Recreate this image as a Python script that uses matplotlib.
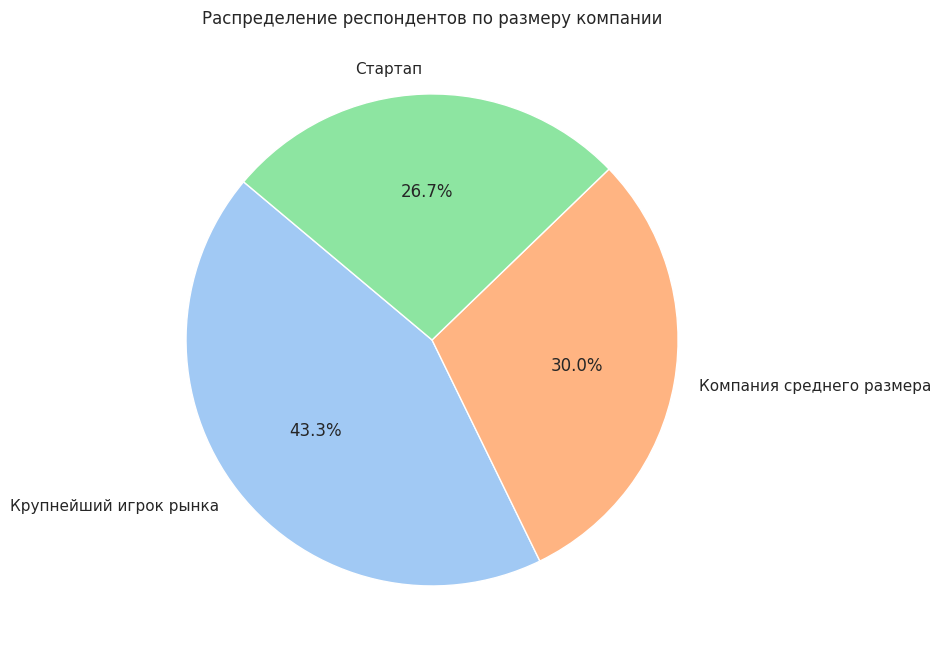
import matplotlib
matplotlib.use("Agg")
import matplotlib.pyplot as plt
import seaborn as sns

# данные
labels = ['Крупнейший игрок рынка', 'Компания среднего размера', 'Стартап']
counts = [13, 9, 8]

sns.set_theme(style="white")
plt.rcParams['font.family'] = ['DejaVu Sans']
colors = sns.color_palette("pastel")[:len(labels)]

fig = plt.figure(figsize=(9.42, 6.58), dpi=100)
ax = fig.add_axes([0.1322, 0.016, 0.6529, 0.9347])

wedges, texts, autotexts = ax.pie(
    counts, labels=labels, colors=colors, autopct='%1.1f%%',
    startangle=140, wedgeprops={'edgecolor': 'white', 'linewidth': 1},
    textprops={'fontsize': 11})
for t in autotexts:
    t.set_fontsize(12)
ax.set_title("Распределение респондентов по размеру компании", fontsize=12)
ax.set_xlim(-1.25, 1.25)
ax.set_ylim(-1.25, 1.25)
ax.set_aspect('equal', adjustable='box')

fig.savefig("out.png", dpi=100)
